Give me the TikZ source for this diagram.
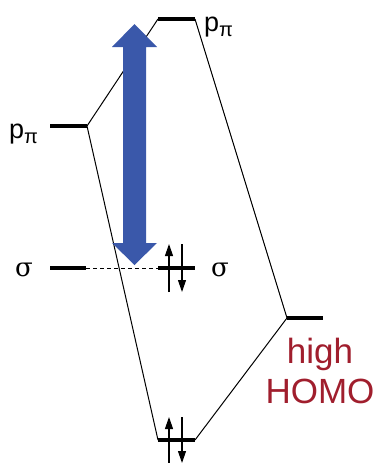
\documentclass[tikz,border=0pt]{standalone}
\usepackage{fontspec}
\setmainfont{Liberation Sans}
\newfontfamily\seriffont{DejaVu Serif}
\usetikzlibrary{arrows.meta}
\definecolor{bluearrow}{RGB}{58,88,170}
\definecolor{homored}{RGB}{160,30,45}
\begin{document}
\begin{tikzpicture}[x=1pt,y=-1pt,
  level/.style={line width=4pt},
  link/.style={line width=1pt},
  elec/.style={line width=1.2pt,-{Triangle[length=12pt,width=8pt]}},
  lbl/.style={inner sep=0pt,font=\fontsize{27}{30}\selectfont},
  siglbl/.style={inner sep=0pt,font=\seriffont\fontsize{26}{30}\selectfont},
  homolbl/.style={inner sep=0pt,anchor=base,text=homored,font=\fontsize{35}{38}\selectfont}]
\useasboundingbox (0,0) rectangle (377,463);
% level endpoints
\coordinate (lpL) at (50,126);  \coordinate (lpR) at (87,126);
\coordinate (tpL) at (158,19);  \coordinate (tpR) at (195,19);
\coordinate (lsL) at (50,268);  \coordinate (lsR) at (86,268);
\coordinate (msL) at (158,268); \coordinate (msR) at (195,268);
\coordinate (hL) at (287,318);  \coordinate (hR) at (323,318);
\coordinate (bL) at (158,440);  \coordinate (bR) at (195,440);
% connectors
\draw[link] (lpR) -- (tpL);
\draw[link] (tpR) -- (hL);
\draw[link] (lpR) -- (bL);
\draw[link] (hL) -- (bR);
\draw[line width=0.8pt,dash pattern=on 4pt off 3pt] (lsR) -- (msL);
% blue double arrow
\fill[bluearrow] (134.5,24) -- (157,47) -- (146,47) -- (146,243) -- (157,243) -- (134.5,265)
  -- (112,243) -- (123,243) -- (123,47) -- (112,47) -- cycle;
% levels
\draw[level] (lpL) -- (lpR);
\draw[level] (tpL) -- (tpR);
\draw[level] (lsL) -- (lsR);
\draw[level] (msL) -- (msR);
\draw[level] (hL) -- (hR);
\draw[level] (bL) -- (bR);
% electrons
\coordinate (e1a) at (169,292); \coordinate (e1b) at (169,244);
\coordinate (e2a) at (182,244); \coordinate (e2b) at (182,292);
\draw[elec] (e1a) -- (e1b);
\draw[elec] (e2a) -- (e2b);
\coordinate (e3a) at (169,463); \coordinate (e3b) at (169,417);
\coordinate (e4a) at (182,417); \coordinate (e4b) at (182,463);
\draw[elec] (e3a) -- (e3b);
\draw[elec] (e4a) -- (e4b);
% labels
\node[lbl,anchor=base west] (lp) at (9,138) {p\raisebox{-5pt}{\fontsize{20}{22}\selectfont π}};
\node[lbl,anchor=base west] (tp) at (204,31) {p\raisebox{-5pt}{\fontsize{20}{22}\selectfont π}};
\node[siglbl,anchor=base west] (ls) at (15,276) {σ};
\node[siglbl,anchor=base west] (ms) at (211,276) {σ};
\node[homolbl] (hi) at (320,363) {high};
\node[homolbl] (homo) at (320,403) {HOMO};
\end{tikzpicture}
\end{document}
